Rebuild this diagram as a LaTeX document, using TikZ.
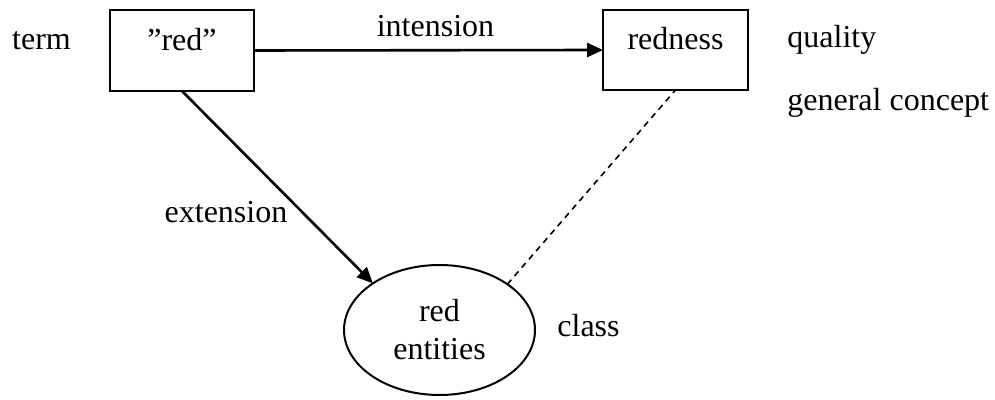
\documentclass[tikz,border=0pt]{standalone}
\usepackage{fontspec}
\setmainfont{Liberation Serif}
\usetikzlibrary{arrows.meta,shapes.geometric}
\begin{document}
\begin{tikzpicture}[x=0.5pt,y=-0.5pt,
  every node/.style={font=\fontsize{16}{19}\selectfont},
  boxnode/.style={draw,line width=1pt,rectangle,inner sep=0pt,outer sep=0pt,text height=6pt,text depth=6pt},
  ellnode/.style={draw,line width=1pt,ellipse,inner sep=0pt,outer sep=0pt,align=center,minimum width=95.5pt,minimum height=65pt},
  lbl/.style={anchor=base,inner sep=0pt},
  arr/.style={line width=1.3pt,-{Triangle[length=8pt,width=7pt]}},
  dsh/.style={line width=0.8pt,dash pattern=on 3pt off 2.5pt}]
\useasboundingbox (0,0) rectangle (995,400);
\node[boxnode,minimum width=72pt,minimum height=40.5pt] (red) at (182,50.5) {”red”};
\node[boxnode,minimum width=72.5pt,minimum height=40pt] (redness) at (675.5,50) {redness};
\node[ellnode] (ent) at (439.5,330) {red\\entities};
\node[lbl] (term) at (41.5,50) {term};
\node[lbl] (int) at (435.5,37) {intension};
\node[lbl] (ext) at (226,223) {extension};
\node[lbl] (cls) at (588.5,337) {class};
\node[lbl,anchor=base west] (qual) at (787,48) {quality};
\node[lbl,anchor=base west] (gen) at (787,111) {general concept};
\draw[arr] (red.east) -- (redness.west);
\draw[arr] (red.south) -- (ent.145);
\draw[dsh] (ent.34) -- (redness.south);
\end{tikzpicture}
\end{document}
